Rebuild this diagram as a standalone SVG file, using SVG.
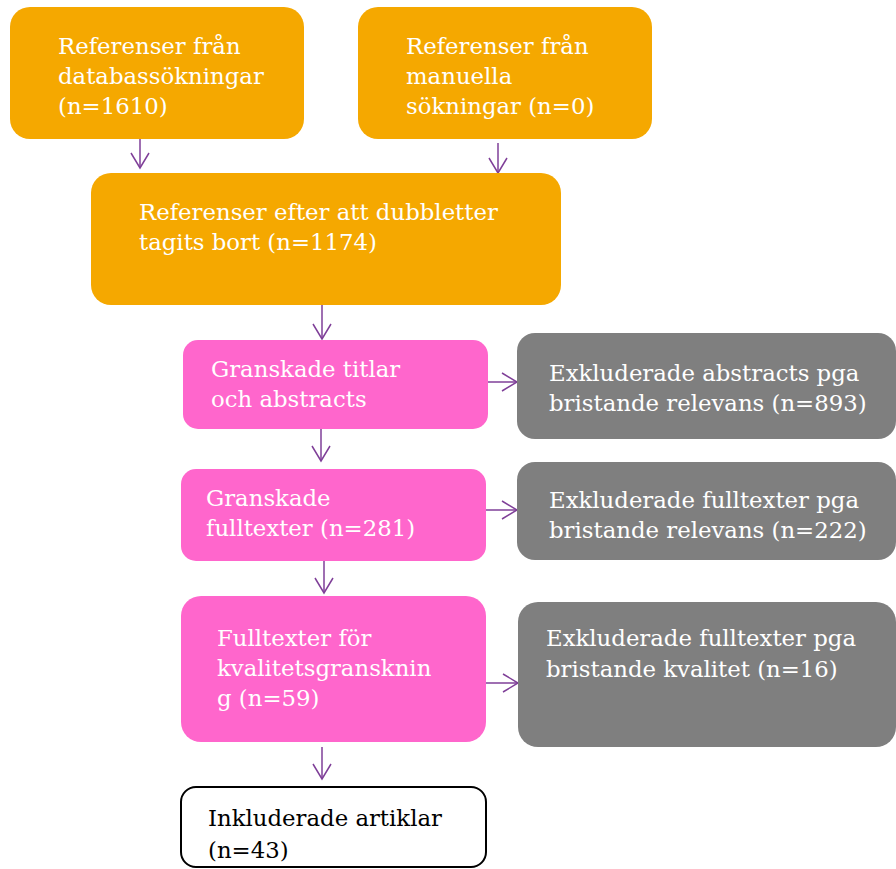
<svg xmlns="http://www.w3.org/2000/svg" width="896" height="869" viewBox="0 0 896 869">
  <style>
    .orange { fill: #F5A800; }
    .pink { fill: #FF66CC; }
    .gray { fill: #7F7F7F; }
    .white { fill: #FFFFFF; stroke: #000000; stroke-width: 2; }
    text { font-family: "DejaVu Serif", "Liberation Serif", serif; font-size: 22.8px; fill: #FFFFFF; }
    text.dark { fill: #000000; }
    .conn { stroke: #7F3F98; stroke-width: 1.5; fill: none; marker-end: url(#arr); }
  </style>
  <defs>
    <marker id="arr" markerUnits="userSpaceOnUse" markerWidth="18" markerHeight="22" refX="16" refY="10" orient="auto" viewBox="0 0 18 22">
      <path d="M1,1 L16,10 L1,19" fill="none" stroke="#7F3F98" stroke-width="1.5"/>
    </marker>
  </defs>
  <rect width="896" height="869" fill="#FFFFFF"/>

  <g id="connectors">
    <line class="conn" x1="140" y1="139" x2="140" y2="168"/>
    <line class="conn" x1="498" y1="143" x2="498" y2="173"/>
    <line class="conn" x1="322" y1="305" x2="322" y2="339"/>
    <line class="conn" x1="321" y1="429" x2="321" y2="461"/>
    <line class="conn" x1="324" y1="561" x2="324" y2="593"/>
    <line class="conn" x1="322" y1="747" x2="322" y2="779"/>
    <line class="conn" x1="488" y1="382" x2="517" y2="382"/>
    <line class="conn" x1="486" y1="510" x2="517" y2="510"/>
    <line class="conn" x1="486" y1="683" x2="518" y2="683"/>
  </g>

  <g id="db">
    <rect class="orange" x="10" y="7" width="294" height="132" rx="20"/>
    <text x="58" y="54">Referenser från</text>
    <text x="58" y="84">databassökningar</text>
    <text x="58" y="114">(n=1610)</text>
  </g>

  <g id="manual">
    <rect class="orange" x="358" y="7" width="294" height="132" rx="20"/>
    <text x="406" y="54">Referenser från</text>
    <text x="406" y="84">manuella</text>
    <text x="406" y="114">sökningar (n=0)</text>
  </g>

  <g id="dedup">
    <rect class="orange" x="91" y="173" width="470" height="132" rx="20"/>
    <text x="139" y="220">Referenser efter att dubbletter</text>
    <text x="139" y="250">tagits bort (n=1174)</text>
  </g>

  <g id="titles">
    <rect class="pink" x="183" y="340" width="305" height="89" rx="15"/>
    <text x="211" y="377">Granskade titlar</text>
    <text x="211" y="407">och abstracts</text>
  </g>

  <g id="excl-abstracts">
    <rect class="gray" x="517" y="333" width="379" height="106" rx="18"/>
    <text x="549" y="381">Exkluderade abstracts pga</text>
    <text x="549" y="411">bristande relevans (n=893)</text>
  </g>

  <g id="fulltexts">
    <rect class="pink" x="181" y="469" width="305" height="92" rx="15"/>
    <text x="206" y="506">Granskade</text>
    <text x="206" y="536">fulltexter (n=281)</text>
  </g>

  <g id="excl-fulltexts">
    <rect class="gray" x="517" y="462" width="379" height="98" rx="18"/>
    <text x="549" y="508">Exkluderade fulltexter pga</text>
    <text x="549" y="538">bristande relevans (n=222)</text>
  </g>

  <g id="quality">
    <rect class="pink" x="181" y="596" width="305" height="146" rx="20"/>
    <text x="217" y="646">Fulltexter för</text>
    <text x="217" y="676">kvalitetsgransknin</text>
    <text x="217" y="706">g (n=59)</text>
  </g>

  <g id="excl-quality">
    <rect class="gray" x="518" y="602" width="378" height="145" rx="20"/>
    <text x="546" y="646">Exkluderade fulltexter pga</text>
    <text x="546" y="677">bristande kvalitet (n=16)</text>
  </g>

  <g id="included">
    <rect class="white" x="181" y="787" width="305" height="80" rx="15"/>
    <text class="dark" x="208" y="826">Inkluderade artiklar</text>
    <text class="dark" x="208" y="858">(n=43)</text>
  </g>
</svg>
